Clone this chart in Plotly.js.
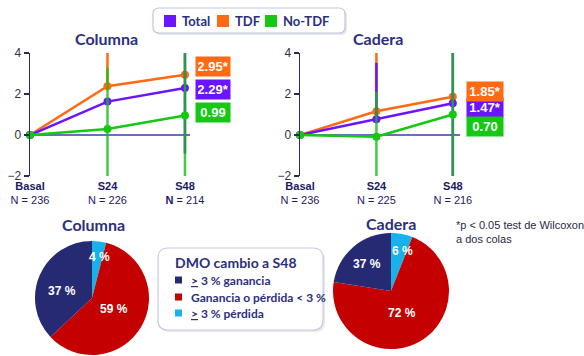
<!DOCTYPE html>
<html><head><meta charset="utf-8">
<script src="https://cdn.plot.ly/plotly-3.0.1.min.js"></script>
<style>html,body{margin:0;padding:0;background:#fff}#chart{width:584px;height:356px}</style>
</head><body><div id="chart"></div>
<script>
// ---------- data ----------
const categories = ['Basal', 'S24', 'S48'];
const nColumna = ['236', '226', '214'];
const nCadera = ['236', '225', '216'];
const seriesNames = ['Total', 'TDF', 'No-TDF'];
const seriesColors = ['#6a14ff', '#ff6a13', '#14c814'];

const colTotal = [0, 1.63, 2.29];
const colTDF = [0, 2.38, 2.94];
const colNoTDF = [0, 0.29, 0.95];
const cadTotal = [0, 0.77, 1.55];
const cadTDF = [0, 1.16, 1.87];
const cadNoTDF = [0, -0.08, 1.0];

// visible error-bar extents (plus / minus)
const colTotalErrUp = [0, 0, 1.71], colTotalErrDn = [0, 0, 3.2];
const colTDFErrUp = [0, 1.62, 0], colTDFErrDn = [0, 0, 0];
const colNoTDFErrUp = [0, 3.01, 3.05], colNoTDFErrDn = [0, 2.29, 2.95];
const cadTotalErrUp = [0, 2.75, 2.45], cadTotalErrDn = [0, 0, 3.55];
const cadTDFErrUp = [0, 2.84, 0], cadTDFErrDn = [0, 0, 0];
const cadNoTDFErrUp = [0, 2.18, 3.0], cadNoTDFErrDn = [0, 1.92, 3.0];

const colS48Labels = ['2.29*', '2.95*', '0.99'];
const cadS48Labels = ['1.47*', '1.85*', '0.70'];

const pieCategories = ['<u>></u> 3 % ganancia', 'Ganancia o pérdida < 3 %', '<u>></u> 3 % pérdida'];
const pieColors = ['#262a72', '#c40000', '#17b2ea'];
const colPieSizes = [37, 59, 4];
const colPieText = ['37 %', '59 %', '4 %'];
const cadPieSizes = [22.5, 71.5, 6];
const cadPieText = ['37 %', '72 %', '6 %'];

const W = 584, H = 356;
const px = x => x / W, py = y => 1 - y / H;
const NAVY = '#2b2f7e';

function tickText(ns, boldN) {
  return categories.map((c, i) => '<b>' + c + '</b><br>' +
    (boldN[i] ? '<b>N</b>' : 'N') + ' = ' + ns[i]);
}

function lineTrace(name, y, color, up, dn, xa, ya, errColor) {
  return {
    type: 'scatter', mode: 'lines+markers', name: name, showlegend: false,
    x: [0, 1, 2], y: y, xaxis: xa, yaxis: ya, cliponaxis: false,
    line: {color: color, width: 2.5},
    marker: {color: color, size: 8},
    error_y: {type: 'data', symmetric: false, array: up, arrayminus: dn,
      color: errColor, thickness: 2.5, width: 0}
  };
}
const errGreen = 'rgba(20,190,20,0.8)';
function pieTrace(sizes, dom) {
  // drawn clockwise from 12 o'clock: pérdida, ganancia/pérdida <3%, ganancia
  return {type: 'pie', values: sizes.slice().reverse(), labels: pieCategories.slice().reverse(),
    textinfo: 'none', sort: false, direction: 'clockwise', rotation: 0, showlegend: false,
    marker: {colors: pieColors.slice().reverse(), line: {width: 0}}, domain: dom, hoverinfo: 'none'};
}
const traces = [
  lineTrace('TDF', colTDF, seriesColors[1], colTDFErrUp, colTDFErrDn, 'x', 'y', seriesColors[1]),
  lineTrace('Total', colTotal, seriesColors[0], colTotalErrUp, colTotalErrDn, 'x', 'y', seriesColors[0]),
  lineTrace('No-TDF', colNoTDF, seriesColors[2], colNoTDFErrUp, colNoTDFErrDn, 'x', 'y', errGreen),
  lineTrace('TDF', cadTDF, seriesColors[1], cadTDFErrUp, cadTDFErrDn, 'x2', 'y2', seriesColors[1]),
  lineTrace('Total', cadTotal, seriesColors[0], cadTotalErrUp, cadTotalErrDn, 'x2', 'y2', seriesColors[0]),
  lineTrace('No-TDF', cadNoTDF, seriesColors[2], cadNoTDFErrUp, cadNoTDFErrDn, 'x2', 'y2', errGreen),
  pieTrace(colPieSizes, {x: [px(35), px(149)], y: [py(355), py(241)]}),
  pieTrace(cadPieSizes, {x: [px(333), px(449)], y: [py(349), py(233)]})
];

const yax = (dom) => ({
  domain: dom, range: [-2, 4], tickvals: [-2, 0, 2, 4], ticks: 'outside', ticklen: 5,
  tickcolor: '#2a2a5a', tickwidth: 1.5, showline: true, linecolor: '#2a2a5a', linewidth: 1.5,
  showgrid: false, zeroline: true, zerolinecolor: '#6b6bc8', zerolinewidth: 1.5,
  tickfont: {family: 'Arial, Liberation Sans, sans-serif', size: 12, color: '#333'}, fixedrange: true
});
const xax = (dom, rng, tt) => ({
  domain: dom, range: rng, tickvals: [0, 1, 2], ticktext: tt, ticks: '', showline: false,
  showgrid: false, zeroline: false, ticklabelstandoff: 2,
  tickfont: {family: 'Arial, Liberation Sans, sans-serif', size: 11, color: '#1a1a66'}, fixedrange: true
});

function roundRect(x0, y0, x1, y1, r) {
  const P = (x, y) => px(x) + ',' + py(y);
  return 'M' + P(x0 + r, y0) + ' L' + P(x1 - r, y0) + ' Q' + P(x1, y0) + ' ' + P(x1, y0 + r) +
    ' L' + P(x1, y1 - r) + ' Q' + P(x1, y1) + ' ' + P(x1 - r, y1) +
    ' L' + P(x0 + r, y1) + ' Q' + P(x0, y1) + ' ' + P(x0, y1 - r) +
    ' L' + P(x0, y0 + r) + ' Q' + P(x0, y0) + ' ' + P(x0 + r, y0) + ' Z';
}

const shapes = [];
const annotations = [];
// top legend box
shapes.push({type: 'path', xref: 'paper', yref: 'paper', path: roundRect(155, 10, 347, 35, 6),
  fillcolor: 'rgba(120,125,170,0.18)', line: {width: 0}});
shapes.push({type: 'path', xref: 'paper', yref: 'paper', path: roundRect(153, 8, 345, 33, 6),
  fillcolor: '#ffffff', line: {color: '#c2c5dd', width: 1.2}});
const legSqX = [164, 217, 265];
seriesNames.forEach((n, i) => {
  shapes.push({type: 'rect', xref: 'paper', yref: 'paper', x0: px(legSqX[i]), x1: px(legSqX[i] + 12),
    y0: py(27), y1: py(15), fillcolor: seriesColors[i], line: {width: 0}});
  annotations.push({xref: 'paper', yref: 'paper', x: px(legSqX[i] + 16), y: py(21), xanchor: 'left',
    yanchor: 'middle', showarrow: false, text: '<b>' + n + '</b>',
    font: {family: 'Lato, Open Sans, sans-serif', size: 13, color: NAVY}});
});

// chart titles
[['Columna', 106, 38], ['Cadera', 378, 38], ['Columna', 93, 224], ['Cadera', 391, 223]].forEach(t => {
  annotations.push({xref: 'paper', yref: 'paper', x: px(t[1]), y: py(t[2]), xanchor: 'center',
    yanchor: 'middle', showarrow: false, text: '<b>' + t[0] + '</b>',
    font: {family: 'Lato, Open Sans, sans-serif', size: 16, color: NAVY}});
});

// S48 value boxes
const colBoxY = [89, 67, 112];
const cadBoxY = [107, 91, 127];
seriesNames.forEach((n, i) => {
  annotations.push({xref: 'paper', yref: 'paper', x: px(195), y: py(colBoxY[i]), xanchor: 'left',
    yanchor: 'middle', showarrow: false, text: '<b>' + colS48Labels[i] + '</b>',
    bgcolor: seriesColors[i], borderpad: 2, width: 30,
    font: {family: 'Arial, Liberation Sans, sans-serif', size: 13, color: '#fff'}});
  annotations.push({xref: 'paper', yref: 'paper', x: px(466), y: py(cadBoxY[i]), xanchor: 'left',
    yanchor: 'middle', showarrow: false, text: '<b>' + cadS48Labels[i] + '</b>',
    bgcolor: seriesColors[i], borderpad: 2, width: 32,
    font: {family: 'Arial, Liberation Sans, sans-serif', size: 13, color: '#fff'}});
});

// pie slice labels
const colPieLblPos = [[62, 291], [114, 309], [99, 257]];
const cadPieLblPos = [[367, 264], [402, 313], [402, 251]];
[[colPieText, colPieLblPos], [cadPieText, cadPieLblPos]].forEach(([txt, pos]) => {
  txt.forEach((t, i) => {
    annotations.push({xref: 'paper', yref: 'paper', x: px(pos[i][0]), y: py(pos[i][1]),
      xanchor: 'center', yanchor: 'middle', showarrow: false, text: '<b>' + t + '</b>',
      font: {family: 'Arial, Liberation Sans, sans-serif', size: 12, color: '#fff'}});
  });
});

// DMO legend box
shapes.push({type: 'path', xref: 'paper', yref: 'paper', path: roundRect(160, 250, 325, 332, 10),
  fillcolor: 'rgba(120,125,170,0.18)', line: {width: 0}});
shapes.push({type: 'path', xref: 'paper', yref: 'paper', path: roundRect(158, 248, 323, 330, 10),
  fillcolor: '#ffffff', line: {color: '#c8cbe0', width: 1.2}});
annotations.push({xref: 'paper', yref: 'paper', x: px(173), y: py(262), xanchor: 'left', yanchor: 'middle',
  showarrow: false, text: '<b>DMO cambio a S48</b>',
  font: {family: 'Lato, Open Sans, sans-serif', size: 14, color: NAVY}});
const dmoY = [280, 297, 313];
pieCategories.forEach((c, i) => {
  shapes.push({type: 'rect', xref: 'paper', yref: 'paper', x0: px(175), x1: px(182),
    y0: py(dmoY[i] + 3.5), y1: py(dmoY[i] - 3.5), fillcolor: pieColors[i], line: {width: 0}});
  annotations.push({xref: 'paper', yref: 'paper', x: px(189), y: py(dmoY[i]), xanchor: 'left',
    yanchor: 'middle', showarrow: false, text: '<b>' + c + '</b>',
    font: {family: 'Lato, Open Sans, sans-serif', size: 12, color: NAVY}});
});

// footnote
annotations.push({xref: 'paper', yref: 'paper', x: px(454), y: py(217), xanchor: 'left', yanchor: 'top',
  showarrow: false, align: 'left', text: '*p < 0.05 test de Wilcoxon<br>a dos colas',
  font: {family: 'Arial, Liberation Sans, sans-serif', size: 11, color: '#2a2a44'}});

const layout = {
  width: W, height: H, margin: {l: 0, r: 0, t: 0, b: 0},
  paper_bgcolor: '#fff', plot_bgcolor: 'rgba(0,0,0,0)', showlegend: false,
  xaxis: xax([px(30), px(190)], [0, 2.065], tickText(nColumna, [false, false, true])),
  yaxis: yax([py(176), py(53)]),
  xaxis2: Object.assign(xax([px(300), px(460)], [0, 2.094], tickText(nCadera, [false, false, false])), {anchor: 'y2'}),
  yaxis2: Object.assign(yax([py(176), py(53)]), {anchor: 'x2'}),
  shapes: shapes, annotations: annotations
};

Plotly.newPlot('chart', traces, layout, {staticPlot: true, displayModeBar: false});
</script>
</body></html>
